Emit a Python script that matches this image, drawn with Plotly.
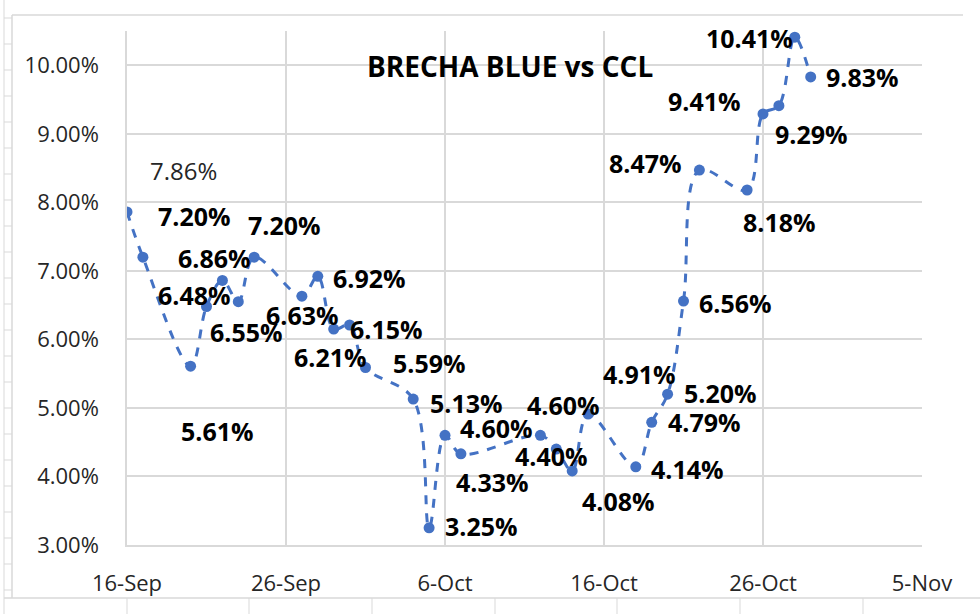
import plotly.graph_objects as go

# brecha blue vs CCL, daily values (%)
dates = ["2021-09-16", "2021-09-17", "2021-09-20", "2021-09-21", "2021-09-22",
         "2021-09-23", "2021-09-24", "2021-09-27", "2021-09-28", "2021-09-29",
         "2021-09-30", "2021-10-01", "2021-10-04", "2021-10-05", "2021-10-06",
         "2021-10-07", "2021-10-12", "2021-10-13", "2021-10-14", "2021-10-15",
         "2021-10-18", "2021-10-19", "2021-10-20", "2021-10-21", "2021-10-22",
         "2021-10-25", "2021-10-26", "2021-10-27", "2021-10-28", "2021-10-29"]
brecha = [7.86, 7.20, 5.61, 6.48, 6.86, 6.55, 7.20, 6.63, 6.92, 6.15,
          6.21, 5.59, 5.13, 3.25, 4.60, 4.33, 4.60, 4.40, 4.08, 4.91,
          4.14, 4.79, 5.20, 6.56, 8.47, 8.18, 9.29, 9.41, 10.41, 9.83]

# label offsets from each point in pixels (dx right, dy down), as dragged in the original
label_dx = [56, 52, 27, -12, -8, 8, 30, 1, 52, 53,
            -19, 64, 53, 52, 51, 32, 23, -5, 46, 51,
            52, 53, 53, 52, -54, 32, 48, -74, -45, 52]
label_dy = [-41, -41, 65, -12, -22, 30, -32, 19, 2, 0,
            32, -5, 4, -2, -7, 28, -30, 7, 30, -40,
            2, 0, -1, 2, -7, 32, 20, -5, 1, 0]

tick_dates = ["2021-09-16", "2021-09-26", "2021-10-06", "2021-10-16", "2021-10-26", "2021-11-05"]
tick_text = ["16-Sep", "26-Sep", "6-Oct", "16-Oct", "26-Oct", "5-Nov"]
y_ticks = [3, 4, 5, 6, 7, 8, 9, 10]

BLUE = "#4472C4"
GRID = "#D9D9D9"
FONT = "Open Sans"

fig = go.Figure()
fig.add_trace(go.Scatter(
    x=dates, y=brecha, mode="lines+markers",
    line=dict(color=BLUE, width=3, dash="dash", shape="spline", smoothing=1.0),
    marker=dict(color=BLUE, size=11),
    hoverinfo="skip", showlegend=False,
))

for i, (d, v) in enumerate(zip(dates, brecha)):
    bold = i != 0
    fig.add_annotation(
        x=d, y=v, text=f"{v:.2f}%", showarrow=False,
        xshift=label_dx[i], yshift=-label_dy[i],
        font=dict(family=FONT, size=25 if bold else 24, color="#000000" if bold else "#262626",
                  weight="bold" if bold else "normal"),
    )

fig.add_annotation(
    x=0.482, y=1.0, xref="paper", yref="paper", text="BRECHA BLUE vs CCL",
    showarrow=False, yshift=-14,
    font=dict(family=FONT, size=28, color="#000000", weight="bold"),
)

# plot area pixel box: x 127..922, y 31..545
L, R, T, B = 127, 922, 31, 545


def px(x):
    return (x - L) / (R - L)


def py(y):
    return (B - y) / (B - T)


shapes = []
line_style = dict(color=GRID, width=1.5)
# chart border
shapes.append(dict(type="line", xref="paper", yref="paper", x0=px(12), x1=px(963), y0=py(15), y1=py(15), line=line_style))
shapes.append(dict(type="line", xref="paper", yref="paper", x0=px(12), x1=px(12), y0=py(15), y1=py(598), line=line_style))
shapes.append(dict(type="line", xref="paper", yref="paper", x0=px(4), x1=px(980), y0=py(598), y1=py(598), line=line_style))
# spreadsheet cells peeking out around the chart
shapes.append(dict(type="line", xref="paper", yref="paper", x0=px(4), x1=px(4), y0=py(0), y1=py(614), line=dict(color=GRID, width=1)))
for yy in range(18, 600, 26):
    shapes.append(dict(type="line", xref="paper", yref="paper", x0=px(4), x1=px(12), y0=py(yy), y1=py(yy), line=dict(color=GRID, width=1)))
for xx in [127, 249, 372, 495, 617, 740, 863]:
    shapes.append(dict(type="line", xref="paper", yref="paper", x0=px(xx), x1=px(xx), y0=py(598), y1=py(614), line=dict(color=GRID, width=1)))

fig.update_layout(
    width=980, height=614,
    margin=dict(l=L, r=980 - R, t=T, b=614 - B),
    paper_bgcolor="white", plot_bgcolor="white",
    shapes=shapes,
    font=dict(family=FONT),
)
fig.update_xaxes(
    type="date", range=["2021-09-16", "2021-11-05"],
    tickvals=tick_dates, ticktext=tick_text,
    showgrid=True, gridcolor=GRID, gridwidth=1.5,
    showline=True, linecolor=GRID, linewidth=1.5,
    tickfont=dict(family=FONT, size=22, color="#262626"),
    ticks="", ticklabelstandoff=18, zeroline=False,
)
fig.update_yaxes(
    range=[3, 10.5], tickvals=y_ticks,
    ticktext=[f"{t:.2f}%" for t in y_ticks],
    showgrid=True, gridcolor=GRID, gridwidth=1.5,
    showline=True, linecolor=GRID, linewidth=1.5,
    tickfont=dict(family=FONT, size=22, color="#262626"),
    ticks="", ticklabelstandoff=22, zeroline=False,
)

fig.write_html("out.html", config={"displayModeBar": False},
               post_script="document.body.style.margin='0px';document.body.style.overflow='hidden';")
